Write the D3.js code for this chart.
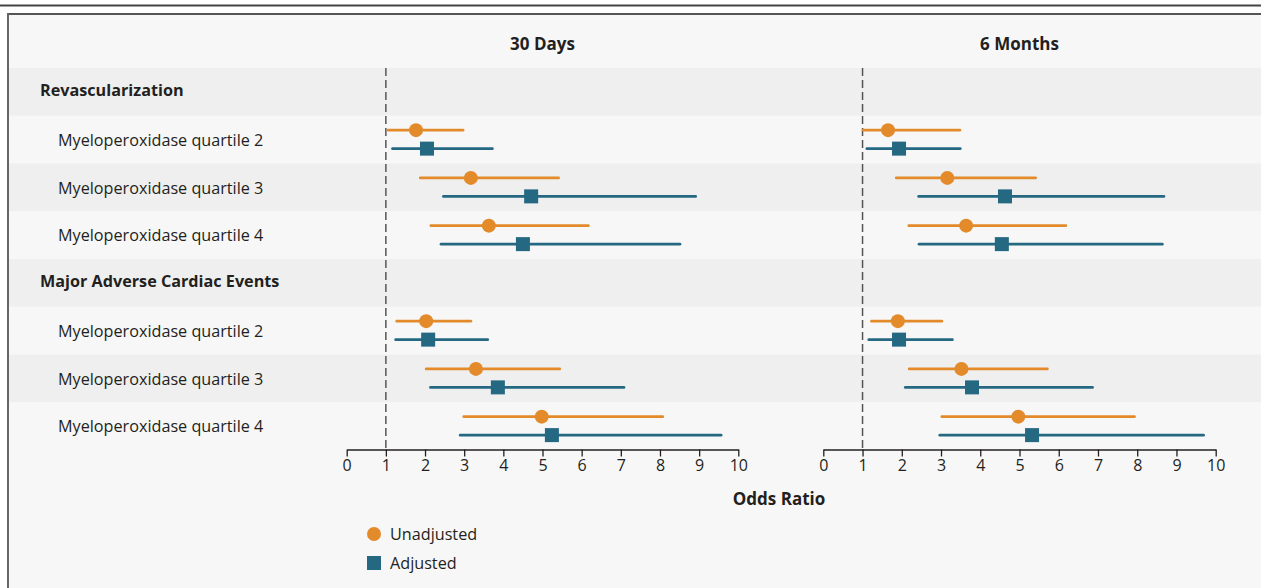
<!DOCTYPE html>
<html>
<head>
<meta charset="utf-8">
<script src="https://cdn.jsdelivr.net/npm/d3@7"></script>
<style>
  html, body { margin: 0; padding: 0; background: #ffffff; }
  svg { display: block; font-family: "Open Sans", "Lato", sans-serif; }
</style>
</head>
<body>
<svg id="chart" width="1261" height="588"></svg>
<script>
// Row layout: group headers followed by their quartile rows
const rowLabels = [
  "Revascularization",
  "Myeloperoxidase quartile 2",
  "Myeloperoxidase quartile 3",
  "Myeloperoxidase quartile 4",
  "Major Adverse Cardiac Events",
  "Myeloperoxidase quartile 2",
  "Myeloperoxidase quartile 3",
  "Myeloperoxidase quartile 4"
];
const headerRows = [0, 4];
const panelTitles = ["30 Days", "6 Months"];
const seriesNames = ["Unadjusted", "Adjusted"];
const xTicks = [0, 1, 2, 3, 4, 5, 6, 7, 8, 9, 10];

// Odds ratios [estimate, lower, upper]; rows 1-3 and 5-7
const day30Unadjusted = [
  [1.77, 1.06, 2.97], [3.17, 1.88, 5.41], [3.63, 2.15, 6.17],
  [2.03, 1.28, 3.17], [3.30, 2.03, 5.44], [4.98, 2.99, 8.07]
];
const day30Adjusted = [
  [2.05, 1.17, 3.72], [4.71, 2.47, 8.91], [4.50, 2.41, 8.51],
  [2.08, 1.25, 3.60], [3.86, 2.14, 7.08], [5.24, 2.90, 9.56]
];
const month6Unadjusted = [
  [1.65, 1.02, 3.48], [3.16, 1.86, 5.41], [3.64, 2.18, 6.18],
  [1.90, 1.23, 3.02], [3.52, 2.19, 5.71], [4.97, 3.02, 7.93]
];
const month6Adjusted = [
  [1.93, 1.11, 3.49], [4.63, 2.43, 8.68], [4.55, 2.44, 8.64],
  [1.93, 1.16, 3.29], [3.79, 2.09, 6.86], [5.32, 2.97, 9.69]
];
const dataRows = [1, 2, 3, 5, 6, 7];

const ORANGE = "#e38a2b";
const BLUE = "#256882";
const INK = "#231f20";

const svg = d3.select("#chart");
const W = 1261, H = 588;

// Frame: outer rule, panel background and borders
svg.append("rect").attr("x", 0).attr("y", 0).attr("width", W).attr("height", H).attr("fill", "#ffffff");
svg.append("rect").attr("x", 8).attr("y", 13).attr("width", W - 8).attr("height", H - 13).attr("fill", "#f7f7f7");
svg.append("line").attr("x1", 0).attr("x2", W).attr("y1", 5.5).attr("y2", 5.5)
  .attr("stroke", "#444").attr("stroke-width", 2);
svg.append("line").attr("x1", 7).attr("x2", W).attr("y1", 14).attr("y2", 14)
  .attr("stroke", "#555").attr("stroke-width", 2);
svg.append("line").attr("x1", 8).attr("x2", 8).attr("y1", 13).attr("y2", H)
  .attr("stroke", "#666").attr("stroke-width", 2);

// Row bands
const y = d3.scaleBand().domain(d3.range(rowLabels.length)).range([68, 450]).paddingInner(0);
svg.append("g").selectAll("rect")
  .data(d3.range(rowLabels.length))
  .join("rect")
  .attr("x", 9).attr("width", W - 9)
  .attr("y", d => y(d)).attr("height", y.bandwidth())
  .attr("fill", d => d % 2 === 0 ? "#efefef" : "#f7f7f7");

// Row labels (group headers sit slightly above the band centre)
svg.append("g").selectAll("text")
  .data(rowLabels)
  .join("text")
  .attr("x", (d, i) => headerRows.includes(i) ? 40 : 58)
  .attr("y", (d, i) => y(i) + y.bandwidth() / 2 + (headerRows.includes(i) ? -2 : 0.5))
  .attr("dy", "0.35em")
  .attr("font-size", 16.2)
  .attr("font-weight", (d, i) => headerRows.includes(i) ? 700 : 400)
  .attr("fill", INK)
  .text(d => d);

const panels = [
  { title: panelTitles[0], range: [346.7, 738.3], unadj: day30Unadjusted, adj: day30Adjusted },
  { title: panelTitles[1], range: [823.3, 1215.7], unadj: month6Unadjusted, adj: month6Adjusted }
];

const axisY = 449.5;
const offsets = [-9.5, 9];

panels.forEach(p => {
  const x = d3.scaleLinear().domain([0, 10]).range(p.range);
  const g = svg.append("g");

  // Panel title
  g.append("text")
    .attr("x", (p.range[0] + p.range[1]) / 2)
    .attr("y", 44).attr("dy", "0.35em")
    .attr("text-anchor", "middle")
    .attr("font-size", 17).attr("font-weight", 700)
    .attr("fill", INK)
    .text(p.title);

  // Reference line at odds ratio 1
  g.append("line")
    .attr("x1", x(1)).attr("x2", x(1))
    .attr("y1", 68).attr("y2", axisY)
    .attr("stroke", "#555").attr("stroke-width", 1.5)
    .attr("stroke-dasharray", "8,4");

  // Axis
  const axis = d3.axisBottom(x).tickValues(xTicks).tickFormat(d3.format("d")).tickSize(7).tickSizeOuter(0);
  const ag = g.append("g").attr("transform", `translate(0,${axisY})`).call(axis);
  ag.select(".domain").attr("stroke", INK).attr("stroke-width", 1.3);
  ag.selectAll(".tick line").attr("stroke", INK).attr("stroke-width", 1.3);
  ag.selectAll(".tick text")
    .attr("font-size", 16).attr("font-family", "'Open Sans', 'Lato', sans-serif")
    .attr("fill", INK).attr("y", 10.5);

  [p.unadj, p.adj].forEach((series, si) => {
    const color = si === 0 ? ORANGE : BLUE;
    const sg = g.append("g");
    const cy = (d, i) => y(dataRows[i]) + y.bandwidth() / 2 + offsets[si];
    sg.selectAll("line")
      .data(series)
      .join("line")
      .attr("x1", d => x(d[1])).attr("x2", d => x(d[2]))
      .attr("y1", cy).attr("y2", cy)
      .attr("stroke", color).attr("stroke-width", 2.8)
      .attr("stroke-linecap", "round");
    if (si === 0) {
      sg.selectAll("circle")
        .data(series)
        .join("circle")
        .attr("cx", d => x(d[0])).attr("cy", cy)
        .attr("r", 7).attr("fill", color);
    } else {
      sg.selectAll("rect")
        .data(series)
        .join("rect")
        .attr("x", d => x(d[0]) - 7).attr("y", (d, i) => cy(d, i) - 7)
        .attr("width", 14).attr("height", 14).attr("fill", color);
    }
  });
});

// Axis title
svg.append("text")
  .attr("x", 779).attr("y", 499).attr("dy", "0.35em")
  .attr("text-anchor", "middle")
  .attr("font-size", 17).attr("font-weight", 700)
  .attr("fill", INK)
  .text("Odds Ratio");

// Legend
const legend = svg.append("g");
legend.append("circle").attr("cx", 374).attr("cy", 534).attr("r", 7).attr("fill", ORANGE);
legend.append("rect").attr("x", 367).attr("y", 556).attr("width", 14).attr("height", 14).attr("fill", BLUE);
legend.selectAll("text")
  .data(seriesNames)
  .join("text")
  .attr("x", 390)
  .attr("y", (d, i) => 534 + i * 29).attr("dy", "0.35em")
  .attr("font-size", 16.2).attr("fill", INK)
  .text(d => d);
</script>
</body>
</html>
